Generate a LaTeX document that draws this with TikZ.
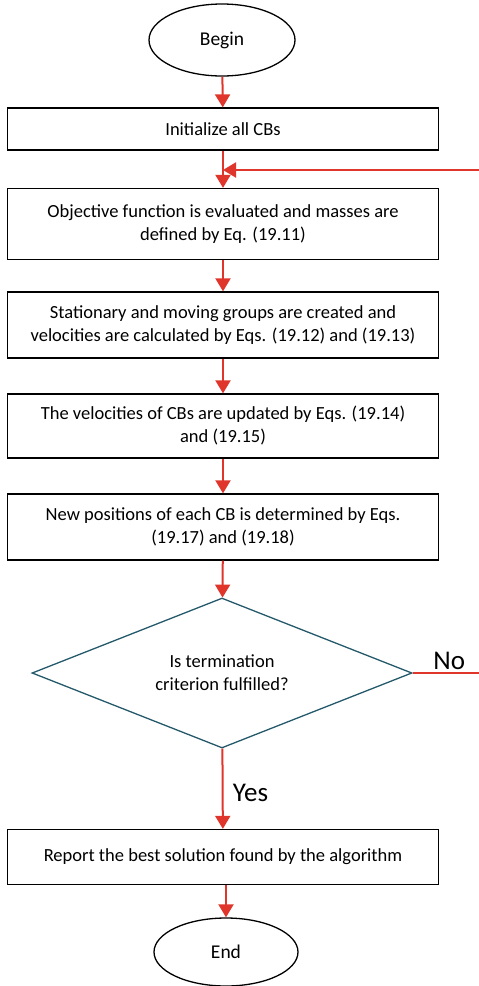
\documentclass[tikz,border=0pt]{standalone}
\usepackage{fontspec}
\setmainfont{Carlito}
\usetikzlibrary{shapes.geometric,arrows.meta}
\definecolor{flowred}{HTML}{E0352B}
\definecolor{flowteal}{HTML}{23596A}

\begin{document}
\begin{tikzpicture}[x=1pt,y=-1pt,
        term/.style={draw,ellipse,line width=1.3pt,minimum width=146pt,minimum height=72pt,font=\fontsize{19.5}{23}\selectfont},
        stepbox/.style={draw,rectangle,line width=1.3pt,minimum width=431pt,align=center,font=\fontsize{18.5}{23}\selectfont},
        test/.style={draw=flowteal,diamond,aspect=2.5,line width=1.3pt,inner sep=0pt,minimum width=380pt,minimum height=150pt,align=center,font=\fontsize{18.5}{23}\selectfont},
        flow/.style={draw=flowred,line width=2pt,-{Triangle[width=15pt,length=13pt]}},
        answer/.style={text=black,font=\fontsize{27}{30}\selectfont}]
        \useasboundingbox (0,0) rectangle (479,986);
        \draw
            (222, 40) node[term] (begin){Begin}
            (223, 129) node[stepbox,minimum height=42pt] (init){Initialize all CBs}
            (223, 224) node[stepbox,minimum height=71pt] (eval){Objective function is evaluated and masses are\\defined by Eq. (19.11)}
            (223, 325) node[stepbox,minimum height=66pt] (groups){Stationary and moving groups are created and\\velocities are calculated by Eqs. (19.12) and (19.13)}
            (223, 426) node[stepbox,minimum height=64pt] (veloc){The velocities of CBs are updated by Eqs. (19.14)\\and (19.15)}
            (223, 527) node[stepbox,minimum height=66pt] (posit){New positions of each CB is determined by Eqs.\\(19.17) and (19.18)}
            (222, 673) node[test] (check){Is termination\\criterion fulfilled?}
            (223, 857) node[stepbox,minimum height=55pt] (report){Report the best solution found by the algorithm}
            (226, 952) node[term,minimum width=144pt,minimum height=68pt] (fin){End};
        \coordinate (loopin) at (479, 170);
        \coordinate (noout) at (479, 673);
        \begin{scope}[flow]
            \draw (begin) to (init);
            \draw (init) to (eval);
            \draw (loopin) to (loopin -| eval.north);
            \draw (eval) to (groups);
            \draw (groups) to (veloc);
            \draw (veloc) to (posit);
            \draw (posit) to (check);
            \draw (check) to node[right,xshift=6pt,pos=0.55,answer] {Yes} (report);
            \draw (report.south -| fin.north) to (fin);
        \end{scope}
        \draw[flowred, line width=2pt] (check.east) to node[above,pos=0.55,inner sep=2pt,answer] {No} (noout);
\end{tikzpicture}
\end{document}
